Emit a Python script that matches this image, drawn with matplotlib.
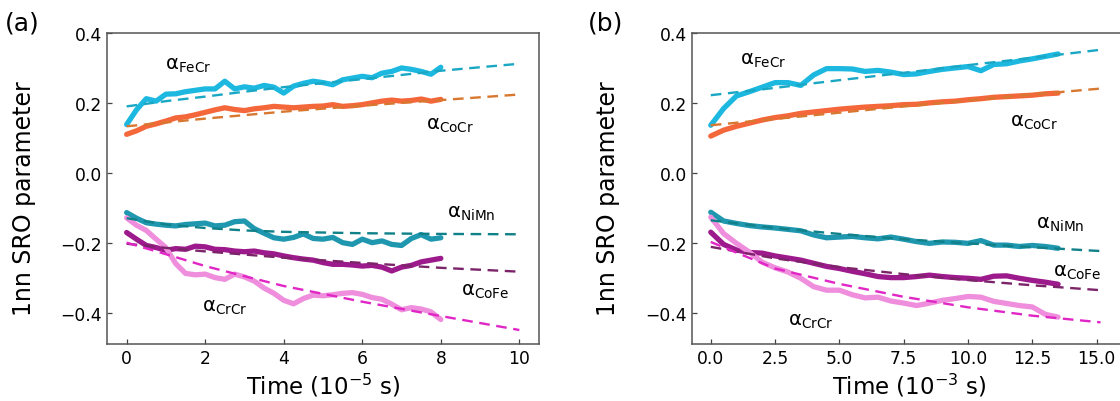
import numpy as np
import matplotlib
matplotlib.use('Agg')
import matplotlib.pyplot as plt

# ---- panel (a): time in 1e-5 s ----
t_a = np.arange(0, 8.01, 0.25)
fecr_a = [0.138, 0.18, 0.212, 0.205, 0.225, 0.226, 0.232, 0.236, 0.24, 0.24, 0.262,
          0.24, 0.246, 0.242, 0.25, 0.245, 0.228, 0.248, 0.256, 0.262, 0.258, 0.252,
          0.266, 0.271, 0.276, 0.272, 0.285, 0.29, 0.30, 0.296, 0.29, 0.282, 0.302]
cocr_a = [0.110, 0.12, 0.133, 0.14, 0.148, 0.157, 0.16, 0.166, 0.173, 0.18, 0.186,
          0.181, 0.178, 0.183, 0.186, 0.19, 0.188, 0.186, 0.188, 0.19, 0.191, 0.195,
          0.19, 0.192, 0.195, 0.2, 0.205, 0.208, 0.205, 0.207, 0.211, 0.205, 0.21]
nimn_a = [-0.114, -0.13, -0.143, -0.147, -0.15, -0.152, -0.148, -0.146, -0.144, -0.152,
          -0.15, -0.14, -0.138, -0.16, -0.173, -0.186, -0.19, -0.185, -0.175, -0.188,
          -0.19, -0.185, -0.2, -0.205, -0.19, -0.2, -0.195, -0.205, -0.208, -0.188,
          -0.177, -0.19, -0.186]
cofe_a = [-0.171, -0.19, -0.208, -0.214, -0.222, -0.217, -0.219, -0.21, -0.212, -0.219,
          -0.22, -0.224, -0.226, -0.224, -0.229, -0.232, -0.238, -0.243, -0.247, -0.25,
          -0.257, -0.262, -0.262, -0.264, -0.267, -0.265, -0.27, -0.281, -0.27, -0.265,
          -0.255, -0.25, -0.245]
crcr_a = [-0.129, -0.15, -0.165, -0.19, -0.214, -0.26, -0.288, -0.292, -0.29, -0.3,
          -0.305, -0.29, -0.298, -0.31, -0.33, -0.345, -0.365, -0.375, -0.36, -0.35,
          -0.352, -0.349, -0.345, -0.343, -0.348, -0.357, -0.362, -0.376, -0.392,
          -0.386, -0.39, -0.398, -0.42]

# fitted curves (a)
tf_a = [0, 1, 2, 3, 4, 6, 8, 10]
fecr_fit_a = [0.19, 0.205, 0.218, 0.232, 0.245, 0.268, 0.292, 0.312]
cocr_fit_a = [0.133, 0.144, 0.155, 0.165, 0.175, 0.192, 0.208, 0.224]
nimn_fit_a = [-0.13, -0.148, -0.158, -0.165, -0.169, -0.173, -0.175, -0.176]
cofe_fit_a = [-0.203, -0.215, -0.225, -0.234, -0.243, -0.258, -0.272, -0.283]
crcr_fit_a = [-0.2, -0.233, -0.267, -0.296, -0.324, -0.369, -0.41, -0.45]

# ---- panel (b): time in 1e-3 s ----
t_b = np.arange(0, 13.51, 0.5)
fecr_b = [0.136, 0.184, 0.22, 0.232, 0.245, 0.258, 0.258, 0.25, 0.28, 0.298, 0.298,
          0.297, 0.29, 0.293, 0.288, 0.281, 0.283, 0.29, 0.296, 0.3, 0.304, 0.292,
          0.31, 0.312, 0.32, 0.326, 0.333, 0.34]
cocr_b = [0.105, 0.122, 0.133, 0.142, 0.151, 0.158, 0.163, 0.17, 0.174, 0.178, 0.182,
          0.185, 0.188, 0.19, 0.192, 0.195, 0.196, 0.2, 0.203, 0.205, 0.209, 0.212,
          0.216, 0.218, 0.22, 0.222, 0.226, 0.228]
nimn_b = [-0.113, -0.138, -0.145, -0.151, -0.155, -0.158, -0.162, -0.166, -0.178,
          -0.186, -0.184, -0.182, -0.186, -0.189, -0.184, -0.19, -0.197, -0.202,
          -0.198, -0.199, -0.202, -0.194, -0.207, -0.207, -0.211, -0.208, -0.211, -0.216]
cofe_b = [-0.17, -0.205, -0.221, -0.228, -0.23, -0.238, -0.244, -0.25, -0.259, -0.268,
          -0.274, -0.282, -0.289, -0.297, -0.3, -0.3, -0.297, -0.293, -0.297, -0.3,
          -0.302, -0.305, -0.296, -0.295, -0.302, -0.308, -0.313, -0.319]
crcr_b = [-0.127, -0.174, -0.202, -0.227, -0.256, -0.272, -0.284, -0.302, -0.326,
          -0.336, -0.336, -0.349, -0.358, -0.356, -0.367, -0.373, -0.38, -0.373,
          -0.365, -0.36, -0.354, -0.356, -0.368, -0.374, -0.38, -0.384, -0.405, -0.413]

# fitted curves (b)
tf_b = [0, 2.5, 5, 7.5, 10, 12.5, 15.15]
fecr_fit_b = [0.222, 0.243, 0.265, 0.286, 0.308, 0.329, 0.352]
cocr_fit_b = [0.136, 0.154, 0.172, 0.19, 0.207, 0.224, 0.241]
nimn_fit_b = [-0.136, -0.158, -0.175, -0.19, -0.202, -0.213, -0.224]
cofe_fit_b = [-0.212, -0.245, -0.27, -0.29, -0.307, -0.322, -0.336]
crcr_fit_b = [-0.198, -0.274, -0.318, -0.355, -0.385, -0.409, -0.428]

pairs = ['FeCr', 'CoCr', 'NiMn', 'CoFe', 'CrCr']
line_colors = ['#1db8e0', '#f4673a', '#1f97af', '#9c1a8b', '#ee8edc']
fit_colors = ['#1aa7c4', '#d8772f', '#108089', '#7b2469', '#e126c6']

fig = plt.figure(figsize=(11.2, 4.02), dpi=100)
ax_a = fig.add_axes([107 / 1120, 57 / 402, 432 / 1120, 311 / 402])
# right spine of (b) falls just outside the picture, as in the original
ax_b = fig.add_axes([692 / 1120, 57 / 402, 434 / 1120, 311 / 402])

panels = [
    (ax_a, t_a, [fecr_a, cocr_a, nimn_a, cofe_a, crcr_a], tf_a,
     [fecr_fit_a, cocr_fit_a, nimn_fit_a, cofe_fit_a, crcr_fit_a],
     (-0.5, 10.5), [0, 2, 4, 6, 8, 10], r'Time ($10^{-5}$ s)',
     [(0.98, 0.31), (7.63, 0.138), (8.16, -0.114), (8.52, -0.336), (1.91, -0.382)]),
    (ax_b, t_b, [fecr_b, cocr_b, nimn_b, cofe_b, crcr_b], tf_b,
     [fecr_fit_b, cocr_fit_b, nimn_fit_b, cofe_fit_b, crcr_fit_b],
     (-0.73, 16.14), [0, 2.5, 5, 7.5, 10, 12.5, 15], r'Time ($10^{-3}$ s)',
     [(1.14, 0.325), (11.63, 0.148), (12.64, -0.146), (13.32, -0.282), (3.02, -0.422)]),
]

for ax, t, series, tf, fits, xlim, xticks, xlabel, labpos in panels:
    for y, c in zip(series, line_colors):
        ax.plot(t, y, color=c, lw=3.8, solid_capstyle='round', solid_joinstyle='round', zorder=2)
    for y, c in zip(fits, fit_colors):
        ax.plot(tf, y, color=c, lw=1.7, ls=(0, (4.5, 2.8)), zorder=3)
    for name, (x, y) in zip(pairs, labpos):
        ax.text(x, y, r'α$_{\mathrm{%s}}$' % name, fontsize=14, ha='left', va='center')
    ax.set_xlim(*xlim)
    ax.set_ylim(-0.49, 0.398)
    ax.set_xticks(xticks)
    if ax is ax_b:
        ax.set_xticklabels(['%.1f' % v for v in xticks])
    ax.set_yticks([-0.4, -0.2, 0.0, 0.2, 0.4])
    ax.set_yticklabels(['\u22120.4', '\u22120.2', '0.0', '0.2', '0.4'])
    ax.tick_params(direction='in', length=3.5, width=0.9, labelsize=12.3, color='#444444')
    for sp in ax.spines.values():
        sp.set_color('#555555')
        sp.set_linewidth(1.1)
    ax.set_xlabel(xlabel, fontsize=16.5, labelpad=3)
    ax.set_ylabel('1nn SRO parameter', fontsize=17, labelpad=4)
    ax.yaxis.set_label_coords(-0.165, 0.47)

fig.text(5 / 1120, 1 - 23 / 402, '(a)', fontsize=18, va='center', ha='left')
fig.text(588 / 1120, 1 - 23 / 402, '(b)', fontsize=18, va='center', ha='left')

fig.savefig('out.png', dpi=100)
